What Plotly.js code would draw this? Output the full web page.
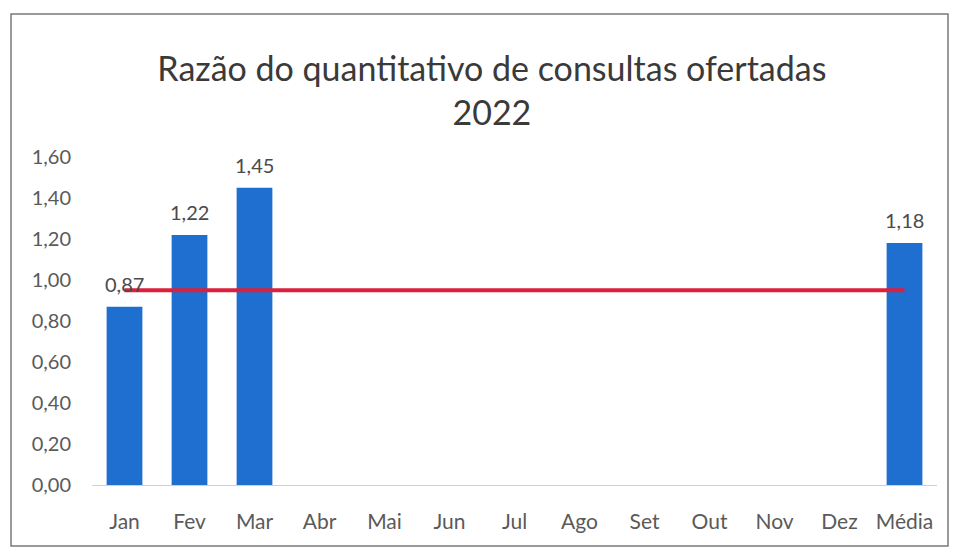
<!DOCTYPE html>
<html><head><meta charset="utf-8">
<script src="https://cdn.plot.ly/plotly-3.0.1.min.js"></script>
<style>body{margin:0;background:#fff}#c{width:957px;height:552px}</style>
</head><body><div id="c"></div>
<script>
const categories = ["Jan","Fev","Mar","Abr","Mai","Jun","Jul","Ago","Set","Out","Nov","Dez","Média"];
const razao = [0.87,1.22,1.45,null,null,null,null,null,null,null,null,null,1.18];
const meta = [0.95,0.95,0.95,0.95,0.95,0.95,0.95,0.95,0.95,0.95,0.95,0.95,0.95];
const yTicks = [0,0.2,0.4,0.6,0.8,1.0,1.2,1.4,1.6];

const annotations = [];
razao.forEach((v, i) => {
  if (v == null) return;
  annotations.push({x:categories[i], y:v, xref:"x", yref:"y",
    text:v.toFixed(2).replace(".", ","), showarrow:false,
    yanchor:"bottom", yshift:9,
    font:{family:"Lato, sans-serif", size:20, color:"#4a4a4a"}});
});

const data = [
  {type:"bar", x:categories, y:razao, marker:{color:"#1f6fd0"}, hoverinfo:"none"},
  {type:"scatter", mode:"lines", x:categories, y:meta,
   line:{color:"#dc1f3c", width:4}, hoverinfo:"none"}
];

const layout = {
  width:957, height:552,
  margin:{l:92, r:20, t:157, b:67},
  paper_bgcolor:"#ffffff", plot_bgcolor:"#ffffff",
  separators:",.",
  showlegend:false,
  bargap:0.45,
  font:{family:"Lato, sans-serif", color:"#595959"},
  title:{text:"Razão do quantitativo de consultas ofertadas<br>2022",
         x:0.514, xanchor:"center", y:0.853, yanchor:"middle",
         font:{family:"Lato, sans-serif", size:34, color:"#3a3a3a"}},
  xaxis:{type:"category", showline:true, linecolor:"#d0d0d0", linewidth:1,
         showgrid:false, zeroline:false, ticks:"outside", ticklen:18,
         tickcolor:"rgba(0,0,0,0)",
         tickfont:{size:21, color:"#5a5a5a"}, fixedrange:true},
  yaxis:{range:[0,1.6], tickvals:yTicks, tickformat:".2f", showgrid:false,
         zeroline:false, showline:false, ticks:"outside", ticklen:16,
         tickcolor:"rgba(0,0,0,0)",
         tickfont:{size:20, color:"#5a5a5a"}, fixedrange:true},
  annotations: annotations,
  shapes:[
    {type:"rect", xref:"paper", yref:"paper",
     x0:(11-92)/845, x1:(948-92)/845, y0:(485-546)/328, y1:(485-14)/328,
     line:{color:"#7a7a7a", width:1.5}, fillcolor:"rgba(0,0,0,0)", layer:"below"}
  ]
};

Plotly.newPlot("c", data, layout, {displayModeBar:false, staticPlot:true});
</script>
</body></html>
